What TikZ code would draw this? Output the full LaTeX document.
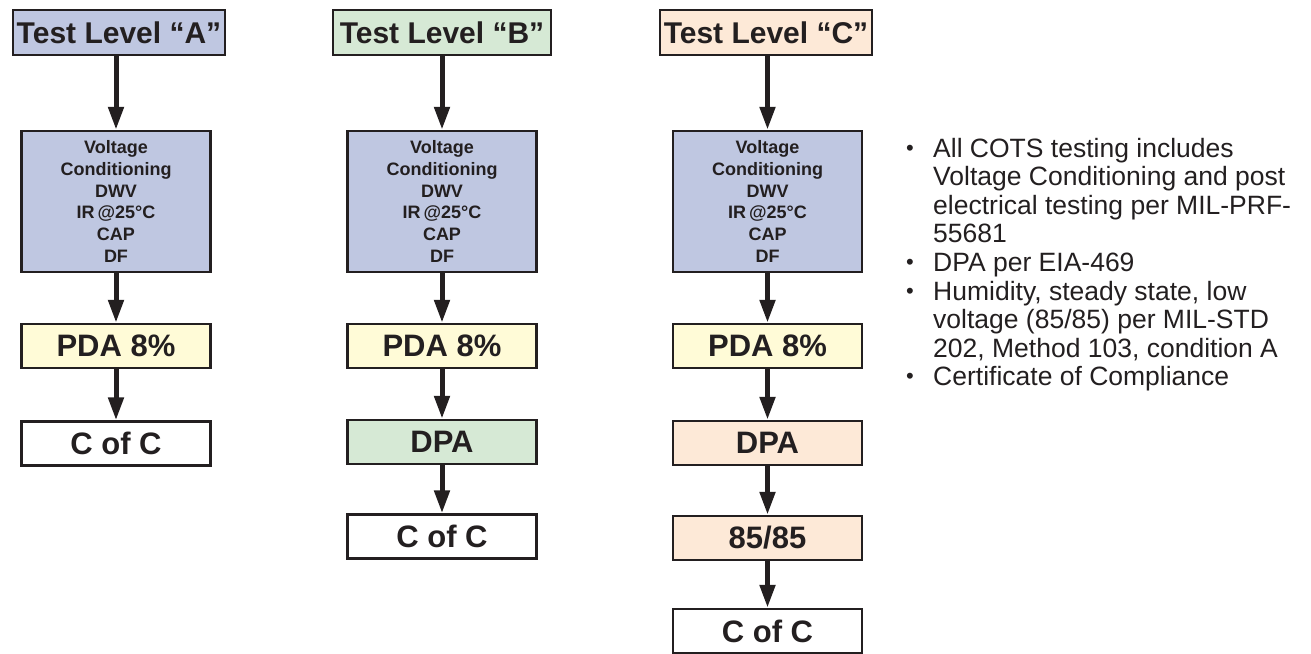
\documentclass[tikz,border=0pt]{standalone}
\usepackage{fontspec}
\setmainfont{Liberation Sans}
\usetikzlibrary{arrows.meta}
\definecolor{dk}{HTML}{231F20}
\definecolor{blueF}{HTML}{BFC7E1}
\definecolor{greenF}{HTML}{D6E9D5}
\definecolor{peachF}{HTML}{FDE9D7}
\definecolor{yellowF}{HTML}{FFFBD7}
\begin{document}
\begin{tikzpicture}[x=1pt,y=-1pt,
  box/.style={draw=dk, line width=2.5pt, inner sep=0pt, text=dk,
    font=\bfseries\fontsize{31}{34}\selectfont},
  ttl/.style={box, minimum height=45pt, font=\bfseries\fontsize{30}{33}\selectfont},
  vcbox/.style={box, fill=blueF, minimum width=189pt, minimum height=141pt,
    align=center, font=\bfseries\fontsize{18}{21.7}\selectfont},
  sbox/.style={box, minimum width=189pt, minimum height=44pt},
  arr/.style={draw=dk, line width=5pt, -{Triangle[width=15pt,length=23pt]}},
  btxt/.style={anchor=base west, inner sep=0pt, text=dk,
    font=\fontsize{26.5}{28.6}\selectfont},
  bdot/.style={anchor=base, inner sep=0pt, text=dk,
    font=\fontsize{22}{24}\selectfont}
]
\useasboundingbox (0,0) rectangle (1311,653);
% Column A
\node[ttl, fill=blueF, minimum width=212pt] (tA) at (119,32.5) {Test Level “A”};
\node[vcbox] (vA) at (116,201.5) {Voltage\\Conditioning\\DWV\\IR\,@25°C\\CAP\\DF};
\node[sbox, fill=yellowF] (pA) at (116,346) {PDA 8\%};
\node[sbox, fill=white] (cA) at (116,443.5) {C of C};
% Column B
\node[ttl, fill=greenF, minimum width=218pt] (tB) at (442,32.5) {Test Level “B”};
\node[vcbox] (vB) at (442,201.5) {Voltage\\Conditioning\\DWV\\IR\,@25°C\\CAP\\DF};
\node[sbox, fill=yellowF] (pB) at (442,346) {PDA 8\%};
\node[sbox, fill=greenF] (dB) at (442,442) {DPA};
\node[sbox, fill=white] (cB) at (442,536.5) {C of C};
% Column C
\node[ttl, fill=peachF, minimum width=212pt] (tC) at (766,32.5) {Test Level “C”};
\node[vcbox] (vC) at (767.5,201.5) {Voltage\\Conditioning\\DWV\\IR\,@25°C\\CAP\\DF};
\node[sbox, fill=yellowF] (pC) at (767.5,346) {PDA 8\%};
\node[sbox, fill=peachF] (dC) at (767.5,443) {DPA};
\node[sbox, fill=peachF] (hC) at (767.5,538) {85/85};
\node[sbox, fill=white] (cC) at (767.5,631) {C of C};
% Arrows
\draw[arr] (tA.south -| vA) -- (vA);
\draw[arr] (vA) -- (pA);
\draw[arr] (pA) -- (cA);
\draw[arr] (tB) -- (vB);
\draw[arr] (vB) -- (pB);
\draw[arr] (pB) -- (dB);
\draw[arr] (dB) -- (cB);
\draw[arr] (tC.south -| vC) -- (vC);
\draw[arr] (vC) -- (pC);
\draw[arr] (pC) -- (dC);
\draw[arr] (dC) -- (hC);
\draw[arr] (hC) -- (cC);
% Notes
\node[bdot] (d1) at (910,155) {•};
\node[btxt] (l1) at (933,157) {All COTS testing includes};
\node[btxt] (l2) at (933,185.6) {Voltage Conditioning and post};
\node[btxt] (l3) at (933,214.2) {electrical testing per MIL-PRF-};
\node[btxt] (l4) at (933,242.8) {55681};
\node[bdot] (d2) at (910,269.4) {•};
\node[btxt] (l5) at (933,271.4) {DPA per EIA-469};
\node[bdot] (d3) at (910,298) {•};
\node[btxt] (l6) at (933,300) {Humidity, steady state, low};
\node[btxt] (l7) at (933,328.6) {voltage (85/85) per MIL-STD};
\node[btxt] (l8) at (933,357.2) {202, Method 103, condition A};
\node[bdot] (d4) at (910,383.8) {•};
\node[btxt] (l9) at (933,385.8) {Certificate of Compliance};
\end{tikzpicture}
\end{document}
